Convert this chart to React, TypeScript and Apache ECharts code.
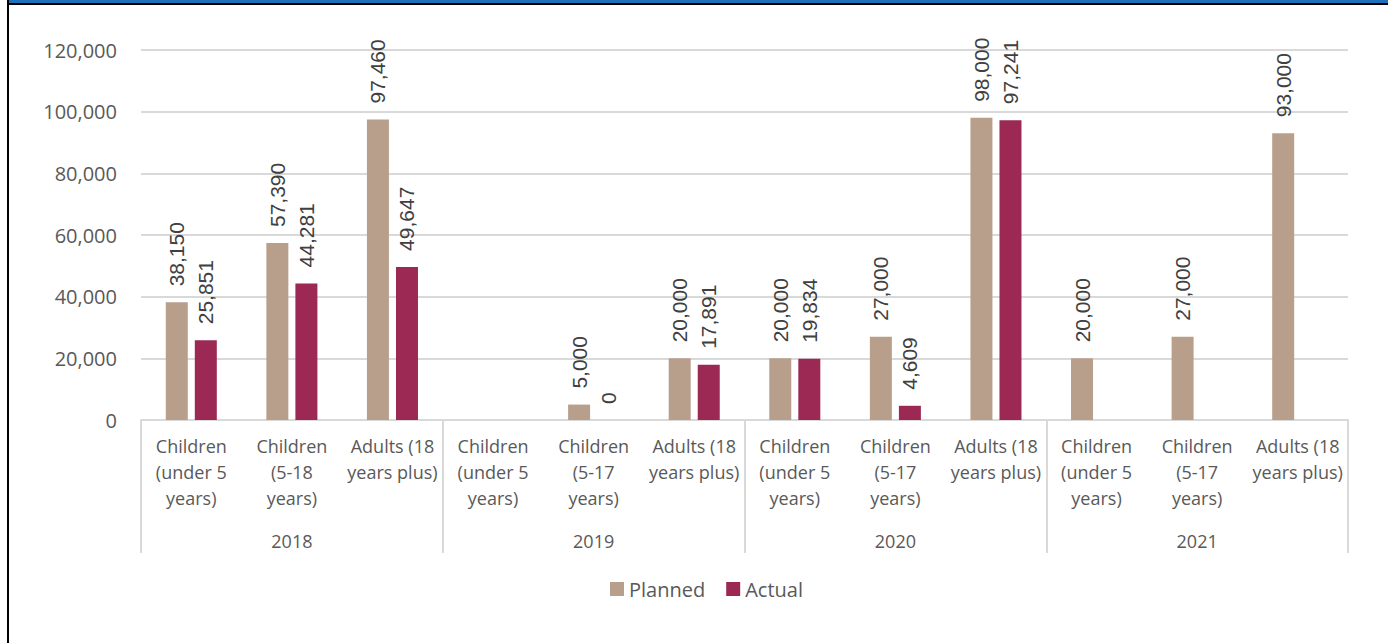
import React, { useEffect, useRef } from "react";
import * as echarts from "echarts";

// Category labels (one per bar pair) and the year each group belongs to
const categories: string[] = [
  "Children\n(under 5\nyears)",
  "Children\n(5-18\nyears)",
  "Adults (18\nyears plus)",
  "Children\n(under 5\nyears)",
  "Children\n(5-17\nyears)",
  "Adults (18\nyears plus)",
  "Children\n(under 5\nyears)",
  "Children\n(5-17\nyears)",
  "Adults (18\nyears plus)",
  "Children\n(under 5\nyears)",
  "Children\n(5-17\nyears)",
  "Adults (18\nyears plus)",
];

const years: string[] = ["2018", "2019", "2020", "2021"];

const planned: (number | null)[] = [
  38150, 57390, 97460,
  null, 5000, 20000,
  20000, 27000, 98000,
  20000, 27000, 93000,
];

const actual: (number | null)[] = [
  25851, 44281, 49647,
  null, 0, 17891,
  19834, 4609, 97241,
  null, null, null,
];

const yTicks = { min: 0, max: 120000, interval: 20000 };

const PLANNED_COLOR = "#B89F8C";
const ACTUAL_COLOR = "#9B2954";
const GRID_COLOR = "#D9D9D9";
const AXIS_TEXT = "#595959";

const fmt = (v: number) => v.toLocaleString("en-US");

const barLabel = {
  show: true,
  position: "top" as const,
  rotate: 90,
  align: "left" as const,
  verticalAlign: "middle" as const,
  distance: 16,
  color: "#404040",
  fontFamily: "Liberation Sans",
  fontSize: 21,
  formatter: (p: any) => fmt(p.value as number),
};

export default function App() {
  const ref = useRef<HTMLDivElement>(null);

  useEffect(() => {
    if (!ref.current) return;
    const chart = echarts.init(ref.current, undefined, { renderer: "svg" });
    chart.setOption({
      animation: false,
      backgroundColor: "#FFFFFF",
      textStyle: { fontFamily: "Open Sans" },
      grid: { left: 141, right: 40, top: 50, bottom: 223, containLabel: false },
      legend: {
        data: ["Planned", "Actual"],
        icon: "rect",
        itemWidth: 14,
        itemHeight: 14,
        itemGap: 21,
        top: 573,
        left: 605,
        textStyle: {
          color: AXIS_TEXT,
          fontFamily: "Open Sans",
          fontSize: 20,
          lineHeight: 22,
        },
      },
      xAxis: [
        {
          type: "category",
          data: categories,
          position: "bottom",
          axisLine: { show: true, lineStyle: { color: GRID_COLOR, width: 2 } },
          axisTick: { show: false },
          splitLine: { show: false },
          axisLabel: {
            interval: 0,
            margin: 13,
            color: AXIS_TEXT,
            fontFamily: "Open Sans",
            fontSize: 18,
            lineHeight: 26,
          },
        },
        {
          type: "category",
          data: years,
          position: "bottom",
          axisLine: { show: false },
          axisTick: {
            show: true,
            length: 133,
            lineStyle: { color: GRID_COLOR, width: 2 },
          },
          splitLine: { show: false },
          axisLabel: {
            margin: 109,
            color: AXIS_TEXT,
            fontFamily: "Open Sans",
            fontSize: 18,
            lineHeight: 24,
          },
        },
      ],
      yAxis: {
        type: "value",
        min: yTicks.min,
        max: yTicks.max,
        interval: yTicks.interval,
        axisLine: { show: false },
        axisTick: { show: false },
        splitLine: { lineStyle: { color: GRID_COLOR, width: 2 } },
        axisLabel: {
          margin: 24,
          color: AXIS_TEXT,
          fontFamily: "Open Sans",
          fontSize: 20,
          formatter: (v: number) => fmt(v),
        },
      },
      series: [
        {
          name: "Planned",
          type: "bar",
          xAxisIndex: 0,
          data: planned,
          barWidth: 22,
          barGap: "32%",
          itemStyle: { color: PLANNED_COLOR },
          label: barLabel,
        },
        {
          name: "Actual",
          type: "bar",
          xAxisIndex: 0,
          data: actual,
          barWidth: 22,
          barGap: "32%",
          itemStyle: { color: ACTUAL_COLOR },
          label: barLabel,
        },
      ],
    });
    return () => chart.dispose();
  }, []);

  return (
    <div
      style={{
        position: "fixed",
        left: 0,
        top: 0,
        width: 1388,
        height: 643,
        background: "#FFFFFF",
        overflow: "hidden",
      }}
    >
      <div ref={ref} style={{ position: "absolute", left: 0, top: 0, width: 1388, height: 643 }} />
      {/* frame: blue band and black rule along the top, black rule down the left */}
      <div style={{ position: "absolute", left: 9, top: 0, width: 1379, height: 3, background: "#1E70B8" }} />
      <div style={{ position: "absolute", left: 7, top: 3, width: 1381, height: 2, background: "#000000" }} />
      <div style={{ position: "absolute", left: 7, top: 0, width: 2, height: 643, background: "#000000" }} />
    </div>
  );
}
